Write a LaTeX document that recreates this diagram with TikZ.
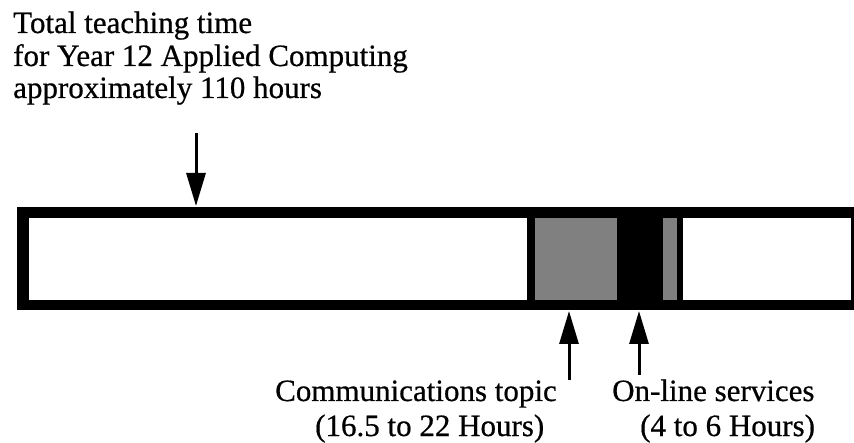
\documentclass[tikz,border=0pt]{standalone}
\usepackage{fontspec}
\setmainfont[FakeBold=0.6]{Liberation Serif}
\usetikzlibrary{arrows.meta}
\begin{document}
\begin{tikzpicture}[x=1pt,y=-1pt,
  lbl/.style={anchor=base west,inner sep=0pt,font=\fontsize{31}{33}\selectfont},
  ptr/.style={line width=3pt,-{Triangle[length=33pt,width=19pt]}},
  halftone/.style={fill=black!50,draw=none},
  blank/.style={fill=white,draw=none}]
\useasboundingbox (0,0) rectangle (854,443);
% bar
\fill[black] (17,207) rectangle (854,310);
\path[blank] (29,218) rectangle (527,300);
\path[halftone] (535,218) rectangle (617,300);
\path[halftone] (663,218) rectangle (677,300);
\path[blank] (683,218) rectangle (851,300);
\coordinate (bartop) at (196,206);
\coordinate (commtip) at (569,311);
\coordinate (onltip) at (639,311);
% top text
\node[lbl] (t1) at (13,33) {Total teaching time};
\node[lbl] (t2) at (13,66) {for Year 12 Applied Computing};
\node[lbl] (t3) at (13,98) {approximately 110 hours};
\coordinate (topstart) at (196,133);
\draw[ptr] (topstart) -- (bartop);
% bottom labels
\node[lbl] (c1) at (275,401) {Communications topic};
\node[lbl] (c2) at (315,436) {(16.5 to 22 Hours)};
\node[lbl] (o1) at (612,401) {On-line services};
\node[lbl] (o2) at (640,436) {(4 to 6 Hours)};
\coordinate (commstart) at (569,380);
\coordinate (onlstart) at (639,375);
\draw[ptr] (commstart) -- (commtip);
\draw[ptr] (onlstart) -- (onltip);
\end{tikzpicture}
\end{document}
